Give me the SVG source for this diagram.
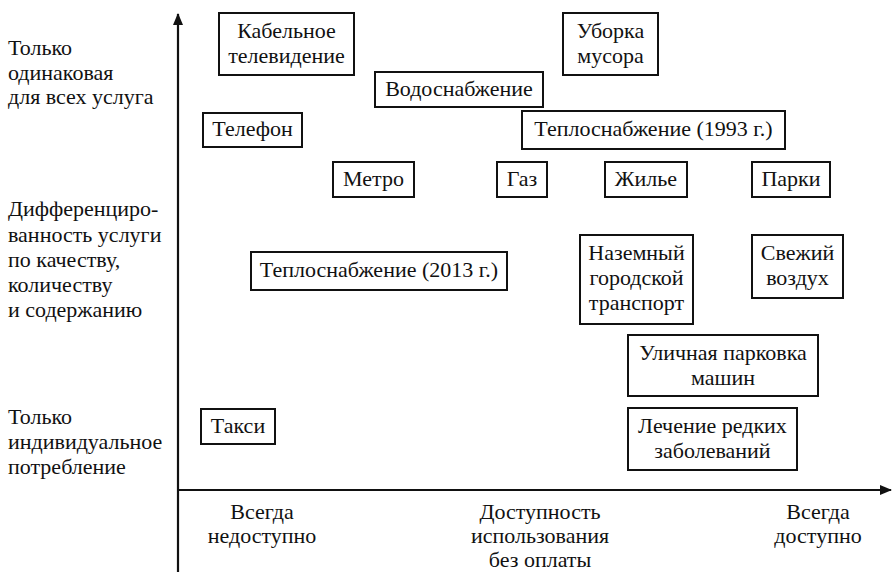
<svg xmlns="http://www.w3.org/2000/svg" width="893" height="572" viewBox="0 0 893 572">
<style>
text{font-family:'Liberation Serif','Times New Roman',serif;font-size:22px;fill:#111}
.c{text-anchor:middle}
.box rect{fill:#fff;stroke:#111;stroke-width:2}
.axis{stroke:#111;stroke-width:2.2;fill:none}
</style>
<defs>
<marker id="ah" markerWidth="12" markerHeight="10" refX="11" refY="5" orient="auto" markerUnits="userSpaceOnUse">
<path d="M0,0 L12,5 L0,10 z" fill="#111"/>
</marker>
</defs>
<g id="connectors">
<line class="axis" x1="178" y1="572" x2="178" y2="14" marker-end="url(#ah)"/>
<line class="axis" x1="178" y1="490" x2="891" y2="490" marker-end="url(#ah)"/>
</g>
<g id="ylabels">
<text x="8" y="55">Только</text>
<text x="8" y="80">одинаковая</text>
<text x="8" y="104">для всех услуга</text>
<text x="8" y="216">Дифференциро-</text>
<text x="8" y="242">ванность услуги</text>
<text x="8" y="267">по качеству,</text>
<text x="8" y="292">количеству</text>
<text x="8" y="317">и содержанию</text>
<text x="8" y="424">Только</text>
<text x="8" y="449">индивидуальное</text>
<text x="8" y="474">потребление</text>
</g>
<g id="xlabels">
<text class="c" x="262" y="519">Всегда</text>
<text class="c" x="262" y="543">недоступно</text>
<text class="c" x="540" y="519">Доступность</text>
<text class="c" x="540" y="543">использования</text>
<text class="c" x="540" y="567">без оплаты</text>
<text class="c" x="818" y="519">Всегда</text>
<text class="c" x="818" y="543">доступно</text>
</g>
<g id="n-cable" class="box"><rect x="219" y="13" width="135" height="62"/><text class="c" x="286.5" y="38">Кабельное</text><text class="c" x="286.5" y="63">телевидение</text></g>
<g id="n-garbage" class="box"><rect x="563" y="13" width="95" height="62"/><text class="c" x="610.5" y="38">Уборка</text><text class="c" x="610.5" y="63">мусора</text></g>
<g id="n-water" class="box"><rect x="375" y="72" width="168" height="35"/><text class="c" x="459" y="96">Водоснабжение</text></g>
<g id="n-phone" class="box"><rect x="203" y="113" width="99" height="34"/><text class="c" x="252.5" y="136">Телефон</text></g>
<g id="n-heat1993" class="box"><rect x="522" y="111" width="263" height="38"/><text class="c" x="653.5" y="136">Теплоснабжение (1993 г.)</text></g>
<g id="n-metro" class="box"><rect x="333" y="162" width="81" height="35"/><text class="c" x="373.5" y="186">Метро</text></g>
<g id="n-gas" class="box"><rect x="497" y="162" width="50" height="35"/><text class="c" x="522" y="186">Газ</text></g>
<g id="n-housing" class="box"><rect x="605" y="162" width="82" height="35"/><text class="c" x="646" y="186">Жилье</text></g>
<g id="n-parks" class="box"><rect x="752" y="162" width="78" height="35"/><text class="c" x="791" y="186">Парки</text></g>
<g id="n-heat2013" class="box"><rect x="251" y="252" width="256" height="38"/><text class="c" x="379" y="277">Теплоснабжение (2013 г.)</text></g>
<g id="n-transport" class="box"><rect x="580" y="235" width="113" height="89"/><text class="c" x="636.5" y="260">Наземный</text><text class="c" x="636.5" y="285">городской</text><text class="c" x="636.5" y="310">транспорт</text></g>
<g id="n-air" class="box"><rect x="752" y="235" width="91" height="63"/><text class="c" x="797.5" y="260">Свежий</text><text class="c" x="797.5" y="285">воздух</text></g>
<g id="n-parking" class="box"><rect x="628" y="335" width="190" height="61"/><text class="c" x="723" y="360">Уличная парковка</text><text class="c" x="723" y="385">машин</text></g>
<g id="n-taxi" class="box"><rect x="201" y="409" width="74" height="35"/><text class="c" x="238" y="433">Такси</text></g>
<g id="n-rare" class="box"><rect x="628" y="408" width="169" height="62"/><text class="c" x="712.5" y="433">Лечение редких</text><text class="c" x="712.5" y="458">заболеваний</text></g>
</svg>
